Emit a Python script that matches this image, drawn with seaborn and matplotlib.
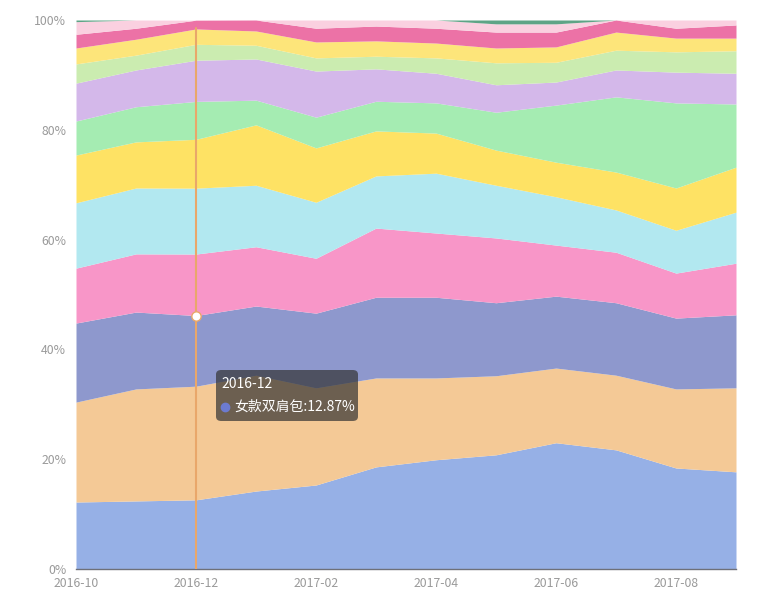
import numpy as np
import pandas as pd
import matplotlib
matplotlib.use("Agg")
import matplotlib.pyplot as plt
from matplotlib.patches import FancyBboxPatch
import seaborn as sns

months = ["2016-10", "2016-11", "2016-12", "2017-01", "2017-02", "2017-03",
          "2017-04", "2017-05", "2017-06", "2017-07", "2017-08", "2017-09"]
tick_labels = ["2016-10", "2016-12", "2017-02", "2017-04", "2017-06", "2017-08"]

s01 = [12.2, 12.4, 12.6, 14.2, 15.3, 18.6, 19.9, 20.8, 23.0, 21.7, 18.4, 17.7]
s02 = [18.2, 20.4, 20.7, 21.1, 17.7, 16.2, 14.9, 14.4, 13.6, 13.6, 14.4, 15.3]
s03 = [14.4, 14.0, 12.87, 12.6, 13.6, 14.7, 14.7, 13.3, 13.1, 13.2, 12.9, 13.3]  # 女款双肩包
s04 = [10.0, 10.6, 11.2, 10.8, 10.0, 12.6, 11.7, 11.8, 9.3, 9.2, 8.2, 9.4]
s05 = [11.9, 12.0, 12.0, 11.2, 10.2, 9.5, 10.9, 9.6, 8.8, 7.7, 7.8, 9.3]
s06 = [8.7, 8.4, 8.9, 11.0, 9.9, 8.2, 7.3, 6.4, 6.3, 6.9, 7.7, 8.2]
s07 = [6.2, 6.4, 6.9, 4.5, 5.6, 5.4, 5.5, 6.9, 10.4, 13.7, 15.5, 11.5]
s08 = [6.9, 6.7, 7.5, 7.5, 8.4, 5.9, 5.4, 5.0, 4.2, 4.9, 5.6, 5.6]
s09 = [3.5, 2.7, 2.9, 2.5, 2.4, 2.3, 2.8, 4.0, 3.6, 3.6, 3.7, 4.1]
s10 = [2.9, 2.9, 2.8, 2.6, 2.9, 2.8, 2.7, 2.7, 2.8, 3.3, 2.5, 2.3]
s11 = [2.5, 2.0, 1.6, 2.0, 2.5, 2.7, 2.7, 2.9, 2.7, 2.2, 1.8, 2.4]
s12 = [2.3, 1.5, 0.0, 0.0, 1.5, 1.1, 1.5, 1.5, 1.5, 0.0, 1.5, 0.9]
s13 = [0.3, 0.0, 0.0, 0.0, 0.0, 0.0, 0.0, 0.7, 0.7, 0.0, 0.0, 0.0]

series_names = ["女款单肩包", "女款手提包", "女款双肩包", "女款斜挎包", "女款钱包",
                "男款双肩包", "男款单肩包", "男款手提包", "男款钱包", "旅行箱",
                "腰包", "手拿包", "其他"]
colors = ["#96b0e6", "#f4c996", "#8e98cd", "#f896c8", "#b2e8f0", "#fee264",
          "#a5ecb2", "#d4b8ea", "#cbecb0", "#fde57a", "#ec72a6", "#fad0e0",
          "#5ea486"]

df = pd.DataFrame(dict(zip(series_names,
                           [s01, s02, s03, s04, s05, s06, s07, s08, s09, s10, s11, s12, s13])),
                  index=months)

sns.set_theme(style="white")
plt.rcParams["font.family"] = ["Noto Sans CJK SC", "DejaVu Sans"]

fig = plt.figure(figsize=(7.76, 5.97), dpi=100)
ax = fig.add_axes([76 / 776, 1 - 569 / 597, 660 / 776, 549 / 597])

x = np.arange(len(months))
ax.stackplot(x, [df[c].values for c in series_names], colors=colors, linewidth=0)

ax.set_xlim(0, len(months) - 1)
ax.set_ylim(0, 100)
ax.set_yticks([0, 20, 40, 60, 80, 100])
ax.set_yticklabels([f"{v}%" for v in [0, 20, 40, 60, 80, 100]])
ax.set_xticks([months.index(t) for t in tick_labels])
ax.set_xticklabels(tick_labels)
ax.tick_params(axis="both", colors="#9a9a9a", labelsize=8.8, labelcolor="#9a9a9a")
ax.tick_params(axis="x", length=4, width=1, color="#6e7079", pad=2, direction="out")
ax.tick_params(axis="y", length=0, pad=7)
for side in ["left", "right", "top"]:
    ax.spines[side].set_visible(False)
ax.spines["bottom"].set_color("#6e7079")
ax.spines["bottom"].set_linewidth(1)
ax.grid(False)

# axis pointer at 2016-12
idx = months.index("2016-12")
ax.axvline(idx, color="#e9a76a", linewidth=1.5, ymax=0.985, zorder=5)
cum = df.cumsum(axis=1)
yv = cum.loc["2016-12", "女款双肩包"]
ax.scatter([idx], [yv], s=45, facecolor="white", edgecolor="#e9a76a", linewidth=1, zorder=6)

# tooltip
bx0, by0 = (216 - 76) / 660, (569 - 421) / 549
bw, bh = 142 / 660, 51 / 549
box = FancyBboxPatch((bx0, by0), bw, bh, boxstyle="round,pad=0,rounding_size=0.008",
                     transform=ax.transAxes, facecolor=(0.2, 0.2, 0.2, 0.7),
                     edgecolor="none", zorder=10)
ax.add_patch(box)
ax.text(bx0 + 5 / 660, by0 + 37 / 549, "2016-12", transform=ax.transAxes,
        color="white", fontsize=10, va="center", ha="left", zorder=11)
ax.scatter([bx0 + 9 / 660], [by0 + 14 / 549], transform=ax.transAxes, s=36,
           color="#6c7bd0", zorder=11)
ax.text(bx0 + 18 / 660, by0 + 14 / 549, f"女款双肩包:{df.loc['2016-12', '女款双肩包']:.2f}%",
        transform=ax.transAxes, color="white", fontsize=10, va="center", ha="left", zorder=11)

fig.savefig("out.png", dpi=100)
